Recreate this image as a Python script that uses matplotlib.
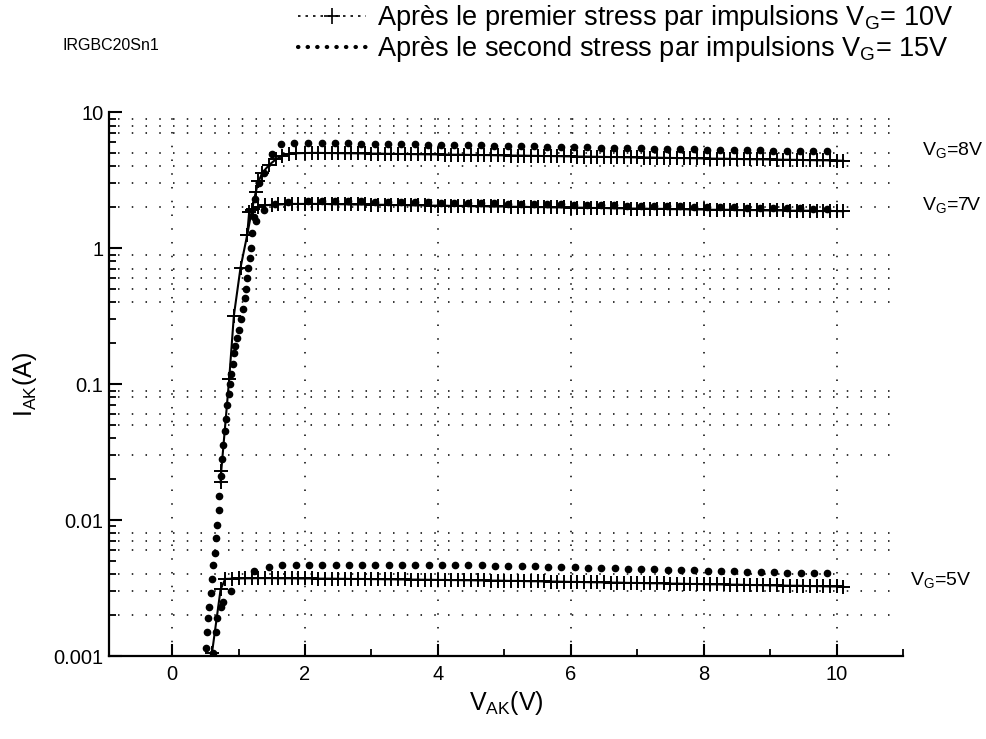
import numpy as np
import matplotlib
matplotlib.use("Agg")
import matplotlib.pyplot as plt
from matplotlib.lines import Line2D
from matplotlib.ticker import NullFormatter

plt.rcParams['font.family'] = ['Liberation Sans', 'DejaVu Sans']
plt.rcParams['mathtext.fontset'] = 'custom'
plt.rcParams['mathtext.rm'] = 'Liberation Sans'
plt.rcParams['mathtext.it'] = 'Liberation Sans'
plt.rcParams['mathtext.default'] = 'rm'

# ---- first stress (VG=10V pulses), "+" markers ----
# VG = 8V : rise + knee, then plateau (0.1 V steps from 2.0 to 10.1)
p8_rise_v = [0.73, 0.74, 0.86, 0.93, 1.03, 1.13, 1.20, 1.26, 1.30, 1.36, 1.46, 1.56, 1.66, 1.76, 1.86]
p8_rise_i = [0.019, 0.023, 0.11, 0.32, 0.72, 1.25, 1.9, 2.6, 3.1, 3.6, 4.1, 4.5, 4.8, 4.95, 5.0]
p8_plat_i = [5.02, 5.03, 5.03, 5.02, 5.02, 5.01, 5.00, 5.00, 4.99, 4.98,
             4.97, 4.97, 4.96, 4.95, 4.94, 4.94, 4.93, 4.92, 4.91, 4.91,
             4.90, 4.89, 4.88, 4.88, 4.87, 4.86, 4.85, 4.85, 4.84, 4.83,
             4.82, 4.81, 4.81, 4.80, 4.79, 4.78, 4.77, 4.77, 4.76, 4.75,
             4.74, 4.73, 4.73, 4.72, 4.71, 4.70, 4.69, 4.69, 4.68, 4.67,
             4.66, 4.65, 4.65, 4.64, 4.63, 4.62, 4.61, 4.61, 4.60, 4.59,
             4.58, 4.57, 4.56, 4.56, 4.55, 4.54, 4.53, 4.52, 4.52, 4.51,
             4.50, 4.49, 4.48, 4.48, 4.47, 4.46, 4.45, 4.44, 4.44, 4.43,
             4.42, 4.41]

# VG = 7V : knee, then plateau (0.1 V steps from 1.5 to 10.1)
p7_rise_v = [1.13, 1.16, 1.22, 1.30, 1.40]
p7_rise_i = [1.25, 1.85, 1.95, 2.02, 2.07]
p7_plat_i = [2.09, 2.10, 2.11, 2.12, 2.12,
             2.12, 2.12, 2.12, 2.12, 2.11, 2.11, 2.11, 2.10, 2.10, 2.10,
             2.09, 2.09, 2.09, 2.08, 2.08, 2.08, 2.07, 2.07, 2.07, 2.06,
             2.06, 2.06, 2.05, 2.05, 2.05, 2.04, 2.04, 2.04, 2.03, 2.03,
             2.03, 2.02, 2.02, 2.02, 2.01, 2.01, 2.01, 2.00, 2.00, 2.00,
             1.99, 1.99, 1.99, 1.98, 1.98, 1.98, 1.97, 1.97, 1.97, 1.96,
             1.96, 1.96, 1.95, 1.95, 1.95, 1.94, 1.94, 1.94, 1.93, 1.93,
             1.93, 1.92, 1.92, 1.92, 1.92, 1.91, 1.91, 1.91, 1.91, 1.90,
             1.90, 1.90, 1.90, 1.89, 1.89, 1.89, 1.89, 1.88, 1.88, 1.88,
             1.88, 1.87]

# VG = 5V (values in mA) : rise, then plateau (0.1 V steps from 0.8 to 10.1)
p5_rise_v = [0.60, 0.73]
p5_rise_ma = [1.05, 3.10]
p5_plat_ma = [3.70, 3.72,
              3.73, 3.74, 3.74, 3.75, 3.75, 3.75, 3.74, 3.74, 3.74, 3.73,
              3.73, 3.73, 3.72, 3.72, 3.72, 3.71, 3.71, 3.70, 3.70, 3.70,
              3.69, 3.69, 3.68, 3.68, 3.67, 3.67, 3.66, 3.66, 3.65, 3.65,
              3.64, 3.64, 3.63, 3.63, 3.62, 3.62, 3.61, 3.61, 3.60, 3.60,
              3.59, 3.58, 3.58, 3.57, 3.56, 3.56, 3.55, 3.54, 3.54, 3.53,
              3.52, 3.52, 3.51, 3.50, 3.50, 3.49, 3.48, 3.48, 3.47, 3.46,
              3.46, 3.45, 3.44, 3.44, 3.43, 3.42, 3.42, 3.41, 3.40, 3.40,
              3.39, 3.38, 3.38, 3.37, 3.36, 3.36, 3.35, 3.34, 3.34, 3.33,
              3.32, 3.32, 3.31, 3.30, 3.30, 3.29, 3.28, 3.28, 3.27, 3.26,
              3.26, 3.25]

# ---- second stress (VG=15V pulses), dots ----
d8_rise_v = [0.51, 0.53, 0.54, 0.56, 0.58, 0.60, 0.62, 0.64, 0.66, 0.68, 0.70, 0.71,
             0.73, 0.75, 0.77, 0.79, 0.81, 0.83, 0.85, 0.87, 0.89, 0.91, 0.93, 0.95,
             0.97, 1.00, 1.03, 1.06, 1.09, 1.11, 1.13, 1.15, 1.17, 1.19, 1.21, 1.23,
             1.25, 1.31, 1.38, 1.50, 1.64, 1.83]
d8_rise_i = [0.00115, 0.0015, 0.0019, 0.0023, 0.0029, 0.0037, 0.0047, 0.0057, 0.0074,
             0.0092, 0.0118, 0.015, 0.021, 0.028, 0.036, 0.045, 0.056, 0.070, 0.085,
             0.10, 0.12, 0.14, 0.17, 0.19, 0.22, 0.25, 0.30, 0.36, 0.43, 0.50, 0.60,
             0.72, 0.85, 1.0, 1.3, 1.7, 2.3, 3.0, 3.6, 4.9, 5.8, 5.9]
# plateau dots every 0.2 V from 2.05 to 9.85
d8_plat_i = [5.92, 5.92, 5.91, 5.90, 5.88, 5.87, 5.85, 5.83, 5.81, 5.79,
             5.77, 5.75, 5.73, 5.71, 5.69, 5.67, 5.65, 5.62, 5.60, 5.58,
             5.56, 5.53, 5.51, 5.48, 5.46, 5.44, 5.41, 5.39, 5.36, 5.34,
             5.32, 5.30, 5.28, 5.26, 5.24, 5.22, 5.20, 5.19, 5.18, 5.17]

d7_rise_v = [1.26, 1.38, 1.55, 1.75]
d7_rise_i = [1.6, 1.9, 2.1, 2.2]
d7_plat_i = [2.22, 2.22, 2.22, 2.21, 2.21, 2.20, 2.20, 2.19, 2.18, 2.18,
             2.17, 2.16, 2.16, 2.15, 2.14, 2.13, 2.13, 2.12, 2.11, 2.10,
             2.09, 2.09, 2.08, 2.07, 2.06, 2.05, 2.05, 2.04, 2.03, 2.02,
             2.02, 2.01, 2.00, 1.99, 1.99, 1.98, 1.97, 1.97, 1.96, 1.95]

d5_rise_v = [0.62, 0.66, 0.68, 0.73, 0.77, 0.88, 1.23]
d5_rise_ma = [1.05, 1.5, 1.9, 2.3, 2.5, 3.0, 4.2]
# plateau dots every 0.2 V from 1.46 to 9.86 (mA)
d5_plat_ma = [4.50, 4.65, 4.70, 4.72, 4.72, 4.72, 4.72, 4.71, 4.71, 4.70,
              4.70, 4.69, 4.69, 4.68, 4.67, 4.66, 4.65, 4.63, 4.61, 4.59,
              4.57, 4.55, 4.53, 4.51, 4.48, 4.46, 4.44, 4.41, 4.39, 4.37,
              4.34, 4.32, 4.29, 4.27, 4.24, 4.22, 4.19, 4.17, 4.14, 4.12,
              4.10, 4.08, 4.06]

# voltage sweeps of the plateaus
v_p8 = np.round(np.arange(2.0, 10.15, 0.1), 2)
v_p7 = np.round(np.arange(1.5, 10.15, 0.1), 2)
v_p5 = np.round(np.arange(0.8, 10.15, 0.1), 2)
v_d87 = np.round(np.arange(2.05, 9.9, 0.2), 2)
v_d5 = np.round(np.arange(1.46, 9.9, 0.2), 2)

ytick_vals = [0.001, 0.01, 0.1, 1, 10]
ytick_labels = ["0.001", "0.01", "0.1", "1", "10"]
ytick_minor = [m * d for d in [0.001, 0.01, 0.1, 1] for m in range(2, 10)]
xtick_vals = [0, 2, 4, 6, 8, 10]
# horizontal dotted grid levels as drawn on the original sheet
grid_levels = [0.002, 0.003, 0.004, 0.006, 0.007, 0.008,
               0.03, 0.05, 0.06, 0.08, 0.09,
               0.4, 0.5, 0.6, 0.7, 0.9,
               2, 3, 4, 5, 7, 8, 9]

fig = plt.figure(figsize=(9.86, 7.39), dpi=100)
ax = fig.add_axes([0.1105, 0.112, 0.8053, 0.736])
ax.set_yscale('log')
ax.set_xlim(-0.95, 11.0)
ax.set_ylim(0.001, 10)

dot_ls = (0, (1, 8))
for g in grid_levels:
    ax.axhline(g, xmin=0.012, xmax=0.99, color='k', lw=1.1, ls=dot_ls, zorder=1)
for xv in xtick_vals:
    ax.axvline(xv, color='k', lw=1.1, ls=dot_ls, zorder=1)

mk_plus = dict(color='k', marker='+', markersize=10, mew=1.4, lw=1.5, zorder=3)
mk_dot = dict(color='k', marker='o', markersize=4.5, ls='none', zorder=4)

ax.plot(p8_rise_v + list(v_p8), p8_rise_i + p8_plat_i, **mk_plus)
ax.plot(p7_rise_v + list(v_p7), p7_rise_i + p7_plat_i, **mk_plus)
ax.plot(p5_rise_v + list(v_p5), np.array(p5_rise_ma + p5_plat_ma) * 1e-3, **mk_plus)

ax.plot(d8_rise_v + list(v_d87), d8_rise_i + d8_plat_i, **mk_dot)
ax.plot(d7_rise_v + list(v_d87), d7_rise_i + d7_plat_i, **mk_dot)
ax.plot(d5_rise_v + list(v_d5), np.array(d5_rise_ma + d5_plat_ma) * 1e-3, **mk_dot)

for s in ['top', 'right']:
    ax.spines[s].set_visible(False)
for s in ['left', 'bottom']:
    ax.spines[s].set_linewidth(1.6)

ax.set_yticks(ytick_vals)
ax.set_yticklabels(ytick_labels)
ax.set_yticks(ytick_minor, minor=True)
ax.yaxis.set_minor_formatter(NullFormatter())
ax.set_xticks(xtick_vals)
ax.set_xticks([1, 3, 5, 7, 9, 11], minor=True)
ax.tick_params(axis='both', which='major', direction='in', length=9, width=1.5,
               labelsize=14.5, pad=6)
ax.tick_params(axis='both', which='minor', direction='in', length=5, width=1.3)
ax.tick_params(axis='y', which='major', pad=4)

ax.set_xlabel("$V_{AK}$(V)", fontsize=18, labelpad=4)
ax.set_ylabel("$I_{AK}$(A)", fontsize=18, labelpad=10)

fig.text(62 / 986, 1 - 45 / 739, "IRGBC20Sn1", fontsize=11.5, va='center')

fig.text(922 / 986, 1 - 150 / 739, "$V_G$=8V", fontsize=14, va='center')
fig.text(922 / 986, 1 - 205 / 739, "$V_G$=7V", fontsize=14, va='center')
fig.text(910 / 986, 1 - 580 / 739, "$V_G$=5V", fontsize=14, va='center')

h1 = Line2D([], [], color='k', ls=(0, (1.5, 3)), lw=1.2, marker='+', markersize=11, mew=1.2)
h2 = Line2D([], [], color='k', ls=(0, (0.1, 2.2)), lw=3, dash_capstyle='round')
fig.legend([h1, h2],
           ["Après le premier stress par impulsions $V_G$= 10V",
            "Après le second stress par impulsions $V_G$= 15V"],
           loc='upper left', bbox_to_anchor=(298 / 986, 1 - 3 / 739),
           fontsize=19.5, frameon=False, handlelength=2.5, handletextpad=0.4,
           labelspacing=0.05, borderpad=0, borderaxespad=0)

fig.savefig("out.png", dpi=100)
